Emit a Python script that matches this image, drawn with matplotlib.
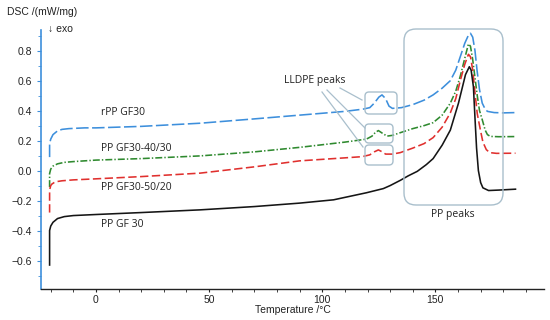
import matplotlib
matplotlib.use("Agg")
import matplotlib.pyplot as plt
from matplotlib.patches import FancyBboxPatch
from matplotlib.lines import Line2D
from matplotlib.transforms import IdentityTransform

plt.rcParams['lines.scale_dashes'] = False

# ---- data ----
x_rpp = [-20.5, -20.5, -20.0, -19.0, -17.0, -15.0, -12.0, -5.0, 0.0, 20.0, 46.0, 70.0, 90.0, 110.0,
         118.0, 121.0, 123.0, 125.0, 126.4, 128.0, 129.5, 131.0, 135.0, 140.0, 145.0, 149.0, 153.0,
         156.6, 159.0, 161.0, 163.0, 164.5, 165.5, 166.5, 167.5, 168.4, 169.5, 170.7, 172.0, 173.0,
         176.0, 180.0, 185.4]
y_rpp = [0.09, 0.18, 0.21, 0.24, 0.265, 0.275, 0.28, 0.285, 0.285, 0.295, 0.316, 0.345, 0.37, 0.395,
         0.41, 0.42, 0.45, 0.49, 0.505, 0.48, 0.43, 0.415, 0.42, 0.44, 0.47, 0.505, 0.55,
         0.60, 0.67, 0.76, 0.85, 0.90, 0.916, 0.89, 0.80, 0.67, 0.54, 0.45, 0.41, 0.395,
         0.387, 0.385, 0.387]

x_4030 = [-20.5, -20.5, -20.0, -19.0, -17.0, -14.0, -10.0, 0.0, 20.0, 46.0, 70.0, 90.0, 110.0, 119.5,
          122.0, 123.5, 124.8, 126.5, 128.6, 131.0, 134.5, 140.0, 145.0, 149.0, 153.0, 156.6, 159.0,
          161.0, 163.0, 164.6, 165.5, 166.5, 167.5, 168.5, 169.5, 170.7, 172.0, 173.0, 174.3, 178.0, 185.4]
y_4030 = [-0.11, -0.02, 0.01, 0.03, 0.045, 0.055, 0.06, 0.07, 0.08, 0.098, 0.125, 0.155, 0.19, 0.21,
          0.23, 0.255, 0.267, 0.25, 0.23, 0.235, 0.253, 0.28, 0.30, 0.32, 0.37, 0.45, 0.53,
          0.63, 0.75, 0.845, 0.83, 0.74, 0.62, 0.50, 0.40, 0.34, 0.27, 0.24, 0.228, 0.226, 0.227]

x_5020 = [-20.5, -20.5, -20.0, -19.5, -18.0, -15.0, -10.0, 0.0, 20.0, 46.0, 70.0, 90.0, 110.0, 117.7,
          121.0, 123.0, 124.8, 126.5, 128.0, 131.0, 134.5, 140.0, 145.0, 149.0, 153.0, 156.6, 159.0,
          161.0, 163.0, 164.6, 165.5, 166.5, 167.5, 168.5, 169.9, 171.0, 172.5, 174.0, 177.0, 185.4]
y_5020 = [-0.28, -0.13, -0.10, -0.09, -0.075, -0.068, -0.062, -0.055, -0.04, -0.017, 0.025, 0.065, 0.085, 0.093,
          0.105, 0.125, 0.138, 0.125, 0.11, 0.11, 0.12, 0.15, 0.18, 0.22, 0.29, 0.385, 0.48,
          0.60, 0.71, 0.776, 0.76, 0.67, 0.52, 0.38, 0.27, 0.19, 0.14, 0.12, 0.115, 0.116]

x_gf30 = [-20.5, -20.5, -20.0, -19.0, -17.0, -14.0, -10.0, 0.0, 20.0, 46.0, 70.0, 90.0, 105.0, 119.5,
          127.0, 130.0, 134.5, 138.0, 142.0, 146.0, 149.0, 153.0, 156.6, 160.2, 163.3, 165.0, 165.8,
          166.8, 167.5, 168.2, 169.0, 170.0, 171.0, 173.5, 178.0, 185.4]
y_gf30 = [-0.63, -0.40, -0.37, -0.345, -0.32, -0.307, -0.30, -0.293, -0.28, -0.262, -0.24, -0.217, -0.195, -0.148,
          -0.12, -0.10, -0.065, -0.035, -0.005, 0.04, 0.08, 0.17, 0.27, 0.45, 0.64, 0.693, 0.67,
          0.56, 0.35, 0.15, 0.0, -0.08, -0.115, -0.133, -0.13, -0.124]

series_names = ["rPP GF30", "PP GF30-40/30", "PP GF30-50/20", "PP GF 30"]
x_ticks = [0, 50, 100, 150]
y_ticks = [-0.6, -0.4, -0.2, 0.0, 0.2, 0.4, 0.6, 0.8]

# ---- styles ----
c_blue = "#3d8fdc"
c_green = "#2f8a2f"
c_red = "#e0302e"
c_black = "#151515"
c_box = "#a9bfcc"
c_text = "#222222"
afont = ["Open Sans", "DejaVu Sans"]
tfont = ["Liberation Sans", "DejaVu Sans"]

fig = plt.figure(figsize=(5.5, 3.2), dpi=100)
ax = fig.add_axes([41/550, 31/320, (544-41)/550, (289-30)/320])
ax.set_xlim(-24.3, 198)
ax.set_ylim(-0.79, 0.938)

ax.plot(x_rpp, y_rpp, color=c_blue, lw=1.15, linestyle=(0, (9, 2.5)))
ax.plot(x_4030, y_4030, color=c_green, lw=1.15, linestyle=(0, (5, 1.5, 1, 1.5)))
ax.plot(x_5020, y_5020, color=c_red, lw=1.15, linestyle=(0, (6, 2.5)))
ax.plot(x_gf30, y_gf30, color=c_black, lw=1.15)

for s in ["top", "right"]:
    ax.spines[s].set_visible(False)
ax.spines["left"].set_color(c_blue)
ax.spines["left"].set_linewidth(1.2)
ax.spines["bottom"].set_color(c_text)
ax.spines["bottom"].set_linewidth(1.0)

ax.set_xticks(x_ticks)
ax.set_xticks(range(-20, 200, 10), minor=True)
ax.set_yticks(y_ticks)
ax.set_yticks([v / 10 for v in range(-7, 10)], minor=True)
ax.set_yticklabels([("\u2212" if v < 0 else "") + f"{abs(v):.1f}" for v in y_ticks])
ax.tick_params(axis="y", which="both", colors=c_blue, labelcolor=c_text, direction="out")
ax.tick_params(axis="y", which="major", length=3, labelsize=7.5)
ax.tick_params(axis="y", which="minor", length=2)
ax.tick_params(axis="x", which="major", length=2.5, pad=2, labelsize=7.5, colors=c_text)
ax.tick_params(axis="x", which="minor", length=2, colors=c_text)
for lab in ax.get_xticklabels() + ax.get_yticklabels():
    lab.set_family(tfont)

fig.text(7/550, 1 - 12/320, "DSC /(mW/mg)", fontsize=7.5, family=tfont, va="center", ha="left", color=c_text)
fig.text(48/550, 1 - 29/320, "\u2193 exo", fontsize=7.5, family=tfont, va="center", ha="left", color=c_text)
ax.set_xlabel("Temperature /\u00b0C", fontsize=7.5, family=tfont, labelpad=0, color=c_text)

# series labels
lab_y = [0.39, 0.15, -0.11, -0.36]
for name, yy in zip(series_names, lab_y):
    ax.text(2.3, yy, name, fontsize=7.5, family=afont, va="center", ha="left", color=c_text)

def add_box(x0, y0, x1, y1, r):
    p = FancyBboxPatch((x0 + r, 320 - y1 + r), (x1 - x0) - 2 * r, (y1 - y0) - 2 * r,
                       boxstyle=f"round,pad={r},rounding_size={r}", transform=IdentityTransform(),
                       fill=False, edgecolor=c_box, lw=1.0)
    fig.add_artist(p)

add_box(365, 92, 397, 114, 4)
add_box(365, 124, 393, 143, 4)
add_box(365, 145, 393, 165, 4)
add_box(404, 29, 503, 205, 12)

for (xa, ya, xb, yb) in [(340, 88, 362, 100), (327, 90, 365, 128), (322, 92, 363, 147)]:
    fig.add_artist(Line2D([xa / 550, xb / 550], [1 - ya / 320, 1 - yb / 320], color=c_box, lw=0.9))

fig.text(315/550, 1 - 80/320, "LLDPE peaks", fontsize=7.5, family=afont, ha="center", va="center", color=c_text)
fig.text(453/550, 1 - 214/320, "PP peaks", fontsize=7.5, family=afont, ha="center", va="center", color=c_text)

fig.savefig("out.png", dpi=100)
